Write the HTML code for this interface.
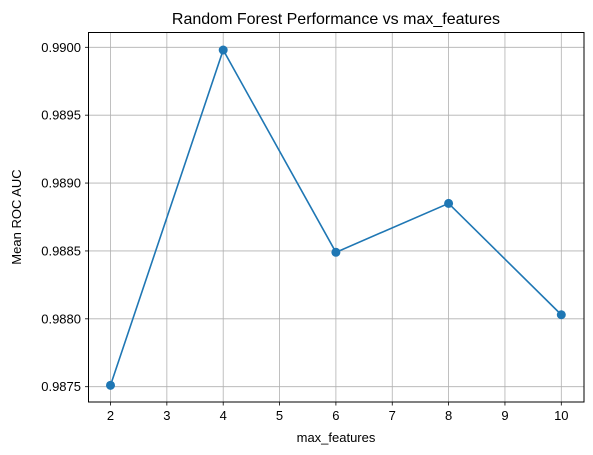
<!DOCTYPE html>
<html><head><meta charset="utf-8"><style>
body{margin:0;background:#fff;}
svg{display:block;font-family:"Liberation Sans","DejaVu Sans",sans-serif;}
</style></head><body>
<svg id="chart" width="593" height="455" viewBox="0 0 593 455">
<rect width="593" height="455" fill="#fff"/>
<g id="grid"></g>
<g id="ticks"></g>
<rect x="88.5" y="32.5" width="495.5" height="369.5" fill="none" stroke="#000" stroke-width="1"/>
<g id="series"></g>
<text x="336" y="24" font-size="16" text-anchor="middle">Random Forest Performance vs max_features</text>
<text x="336" y="442" font-size="13" text-anchor="middle">max_features</text>
<text x="21" y="217" font-size="13" text-anchor="middle" transform="rotate(-90 21 217)">Mean ROC AUC</text>
</svg>
<script>
const xValues=[2,4,6,8,10];
const yValues=[0.98751,0.98998,0.98849,0.98885,0.98803];
const xTicks=[2,3,4,5,6,7,8,9,10];
const yTicks=[0.9875,0.9880,0.9885,0.9890,0.9895,0.9900];
const NS="http://www.w3.org/2000/svg";
function sx(v){return 110.5+(v-2)*(561.3-110.5)/8;}
function sy(v){return 386.7-(v-0.9875)*(386.7-47.3)/0.0025;}
function mk(tag,attrs,parent){const e=document.createElementNS(NS,tag);for(const k in attrs)e.setAttribute(k,attrs[k]);parent.appendChild(e);return e;}
const grid=document.getElementById('grid'),ticks=document.getElementById('ticks'),series=document.getElementById('series');
xTicks.forEach(t=>{const x=sx(t);
 let g=mk('line',{x1:x,x2:x,y1:32.5,y2:402,stroke:'#b0b0b0','stroke-width':0.8},grid);
 
 
 let m=mk('line',{x1:x,x2:x,y1:402,y2:405.5,stroke:'#000','stroke-width':0.8},ticks);
 
 
 let l=mk('text',{x:x,y:420,'font-size':13,'text-anchor':'middle'},ticks);l.textContent=t;
 
 
});
yTicks.forEach(t=>{const y=sy(t);
 let g=mk('line',{x1:88.5,x2:584,y1:y,y2:y,stroke:'#b0b0b0','stroke-width':0.8},grid);
 
 
 let m=mk('line',{x1:85,x2:88.5,y1:y,y2:y,stroke:'#000','stroke-width':0.8},ticks);
 
 
 let l=mk('text',{x:81,y:y+4.5,'font-size':13,'text-anchor':'end'},ticks);l.textContent=t.toFixed(4);
 
 
});
const pts=xValues.map((x,i)=>sx(x)+','+sy(yValues[i])).join(' ');
let pl=mk('polyline',{points:pts,fill:'none',stroke:'#1f77b4','stroke-width':1.6},series);


xValues.forEach((x,i)=>{let c=mk('circle',{cx:sx(x),cy:sy(yValues[i]),r:4.5,fill:'#1f77b4'},series);
 
 
});
</script>
</body></html>
